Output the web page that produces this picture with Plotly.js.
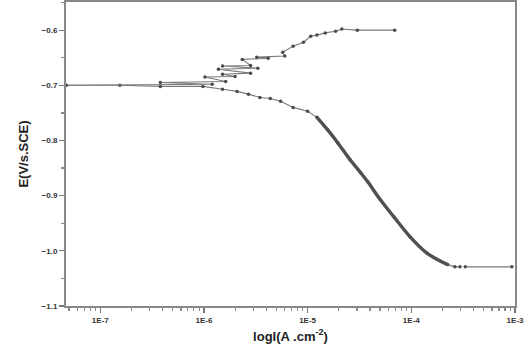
<!DOCTYPE html>
<html>
<head>
<meta charset="utf-8">
<script src="https://cdn.plot.ly/plotly-3.0.1.min.js"></script>
<style>html,body{margin:0;padding:0;background:#fff;}#chart{width:525px;height:355px;}</style>
</head>
<body>
<div id="chart"></div>
<script>
// Cathodic branch: log10 current density and potential (V vs SCE)
const cathLogI = [-7.33, -6.81, -6.42, -6.01, -5.82, -5.68, -5.57, -5.46, -5.36, -5.26, -5.14, -5.00, -4.91, -4.81, -4.71, -4.59, -4.49, -4.42, -4.30, -4.17, -4.01, -3.85, -3.65, -3.58, -3.53, null, -3.48, -3.03];
const cathE    = [-0.700, -0.700, -0.702, -0.702, -0.707, -0.711, -0.716, -0.722, -0.724, -0.729, -0.740, -0.747, -0.758, -0.780, -0.804, -0.835, -0.858, -0.875, -0.907, -0.938, -0.975, -1.004, -1.025, -1.029, -1.029, null, -1.029, -1.029];
// Anodic branch
const anodLogI = [-7.33, -5.92, -6.42, -5.79, -5.99, -5.70, -5.82, -5.55, -5.86, -5.48, -5.82, -5.55, -5.63, -5.38, -5.49, -5.22, -5.24, -5.14, -5.04, -4.97, -4.91, -4.83, -4.73, -4.67, -4.52, -4.16];
const anodE    = [-0.700, -0.698, -0.695, -0.693, -0.685, -0.684, -0.680, -0.678, -0.671, -0.669, -0.665, -0.664, -0.653, -0.651, -0.649, -0.647, -0.640, -0.629, -0.622, -0.611, -0.609, -0.605, -0.602, -0.598, -0.600, -0.600];
const xTickVals = [1e-7, 1e-6, 1e-5, 1e-4, 1e-3];
const xTickText = ['1E-7', '1E-6', '1E-5', '1E-4', '1E-3'];

const toI = a => a.map(v => v === null ? null : Math.pow(10, v));
const lineCol = '#7a7a7a';
const markCol = '#4a4a4a';
const steepStart = 12, steepEnd = 23; // indices of the dense, steep cathodic section
const traces = [
  {x: toI(cathLogI), y: cathE, mode: 'lines+markers', type: 'scatter', connectgaps: false,
   line: {color: lineCol, width: 1.1}, marker: {color: markCol, size: 3.5, symbol: 'circle'}},
  {x: toI(cathLogI.slice(steepStart, steepEnd)), y: cathE.slice(steepStart, steepEnd), mode: 'lines', type: 'scatter',
   line: {color: '#505050', width: 3.4, shape: 'spline'}},
  {x: toI(anodLogI), y: anodE, mode: 'lines+markers', type: 'scatter',
   line: {color: lineCol, width: 1.1}, marker: {color: markCol, size: 3.5, symbol: 'circle'}}
];
const tickFont = {family: 'Liberation Sans, Arial, sans-serif', size: 8, weight: 'bold', color: '#333'};
const titleFont = {family: 'Liberation Sans, Arial, sans-serif', size: 13, weight: 'bold', color: '#222'};
const layout = {
  width: 525, height: 355,
  margin: {l: 66, r: 10, t: 2, b: 49},
  paper_bgcolor: '#fff', plot_bgcolor: '#fff',
  showlegend: false,
  xaxis: {
    type: 'log', range: [-7.33, -3.0],
    tickmode: 'array', tickvals: xTickVals, ticktext: xTickText,
    ticks: 'outside', ticklen: 5, tickcolor: '#777', tickwidth: 1.2,
    minor: {ticks: 'outside', ticklen: 3, tickcolor: '#888', dtick: 'D1'},
    showgrid: false, zeroline: false,
    showline: true, linecolor: '#888', linewidth: 2, mirror: true,
    tickfont: tickFont,
    title: {text: 'logI(A .cm<sup>-2</sup>)', font: titleFont, standoff: 8}
  },
  yaxis: {
    range: [-1.1, -0.549],
    tickmode: 'array', tickvals: [-1.1, -1.0, -0.9, -0.8, -0.7, -0.6],
    tickformat: '.1f',
    ticks: 'outside', ticklen: 5, tickcolor: '#777', tickwidth: 1.2,
    minor: {ticks: 'outside', ticklen: 3, tickcolor: '#888', tickvals: [-1.05, -0.95, -0.85, -0.75, -0.65, -0.55]},
    showgrid: false, zeroline: false,
    showline: true, linecolor: '#888', linewidth: 2, mirror: true,
    tickfont: tickFont,
    title: {text: 'E(V/s.SCE)', font: titleFont, standoff: 10}
  }
};
Plotly.newPlot('chart', traces, layout, {staticPlot: true, displayModeBar: false});
</script>
</body>
</html>
